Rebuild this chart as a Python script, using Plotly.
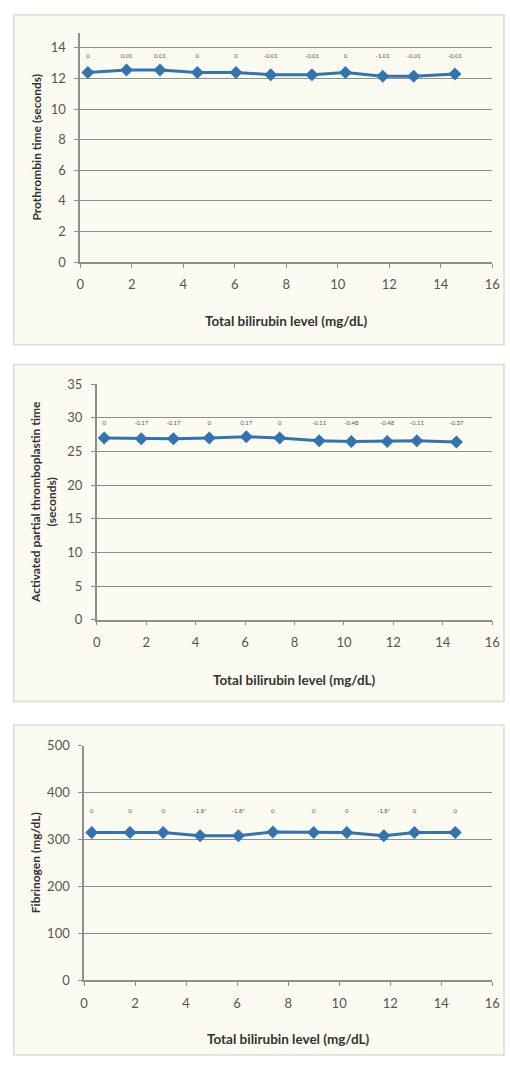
import plotly.graph_objects as go

# ---- data ----
bilirubin = [0.3, 1.8, 3.1, 4.55, 6.05, 7.4, 9.0, 10.3, 11.75, 12.95, 14.55]

pt_values = [12.4, 12.55, 12.55, 12.4, 12.4, 12.25, 12.25, 12.4, 12.15, 12.15, 12.3]
pt_labels = ["0", "0.01", "0.01", "0", "0", "-0.01", "-0.01", "0", "-1.01", "-0.01", "-0.01"]

aptt_values = [27.0, 26.9, 26.9, 27.0, 27.2, 27.0, 26.6, 26.5, 26.5, 26.6, 26.4]
aptt_labels = ["0", "-0.17", "-0.17", "0", "0.17", "0", "-0.11", "-0.48", "-0.48", "-0.11", "-0.37"]

fib_values = [315, 315, 315, 308, 308, 316, 315, 315, 308, 315, 315]
fib_labels = ["0", "0", "0", "-1.8*", "-1.8*", "0", "0", "0", "-1.8*", "0", "0"]

x_ticks = [0, 2, 4, 6, 8, 10, 12, 14, 16]
pt_ticks = [0, 2, 4, 6, 8, 10, 12, 14]
aptt_ticks = [0, 5, 10, 15, 20, 25, 30, 35]
fib_ticks = [0, 100, 200, 300, 400, 500]

x_title = ["Total bilirubin level (mg/dL)", "Total bilirubin level (mg/dL)", "Total bilirubin level (mg/dL)"]
y_titles = ["Prothrombin time (seconds)",
            "Activated partial thromboplastin time<br>(seconds)",
            "Fibrinogen (mg/dL)"]

# ---- layout helpers (pixel -> paper) ----
W, H = 510, 1065
def px(x):
    return x / W
def py(y):
    return 1 - y / H

FONT = "Lato, 'Open Sans', sans-serif"
LINE_COLOR = "#3274b0"
GRID = "#8f8f8f"
TICKC = "#555555"

fig = go.Figure()

panels = [
    dict(vals=pt_values, labels=pt_labels, label_y=13.45, ticks=pt_ticks, rng=[0, 15],
         xdom=[78, 500], ydom=[25, 258], frame=[10, 7, 512, 342], ytitle_x=33, xtitle_y=318),
    dict(vals=aptt_values, labels=aptt_labels, label_y=29.1, ticks=aptt_ticks, rng=[0, 35],
         xdom=[95, 500], ydom=[382, 621], frame=[10, 362, 512, 704], ytitle_x=41, xtitle_y=682),
    dict(vals=fib_values, labels=fib_labels, label_y=360, ticks=fib_ticks, rng=[0, 500],
         xdom=[82, 500], ydom=[749, 987], frame=[10, 728, 512, 1063], ytitle_x=33, xtitle_y=1047),
]

shapes = []
annotations = []
for i, p in enumerate(panels, start=1):
    xa = "x" if i == 1 else f"x{i}"
    ya = "y" if i == 1 else f"y{i}"
    fig.add_trace(go.Scatter(
        x=bilirubin, y=p["vals"], mode="lines+markers",
        line=dict(color=LINE_COLOR, width=3),
        marker=dict(symbol="diamond", size=10, color=LINE_COLOR),
        xaxis=xa, yaxis=ya, showlegend=False, cliponaxis=False))
    fig.add_trace(go.Scatter(
        x=bilirubin, y=[p["label_y"]] * len(bilirubin), mode="text",
        text=p["labels"], textfont=dict(size=6, color="#555555", family=FONT),
        xaxis=xa, yaxis=ya, showlegend=False, cliponaxis=False))

    xkey = "xaxis" if i == 1 else f"xaxis{i}"
    ykey = "yaxis" if i == 1 else f"yaxis{i}"
    fig.update_layout(**{
        xkey: dict(domain=[px(p["xdom"][0]), px(p["xdom"][1])], range=[0, 16],
                   tickvals=x_ticks, showgrid=False, zeroline=False,
                   showline=True, linecolor=GRID, linewidth=1.5,
                   ticks="outside", ticklen=4, tickcolor=GRID,
                   ticklabeloverflow="allow", ticklabelstandoff=6,
                   tickfont=dict(size=13, color=TICKC, family=FONT),
                   anchor=ya),
        ykey: dict(domain=[py(p["ydom"][1]), py(p["ydom"][0])], range=p["rng"],
                   tickvals=p["ticks"], showgrid=True, gridcolor=GRID, gridwidth=1.3,
                   zeroline=False, showline=True, linecolor=GRID, linewidth=1.5,
                   ticks="outside", ticklen=4, tickcolor=GRID,
                   ticklabelstandoff=6,
                   tickfont=dict(size=13, color=TICKC, family=FONT),
                   anchor=xa),
    })
    f = p["frame"]
    shapes.append(dict(type="rect", xref="paper", yref="paper",
                       x0=px(f[0]), x1=px(f[2]), y0=py(f[3]), y1=py(f[1]),
                       fillcolor="#fcfbf1", line=dict(color="#dcdcd4", width=1.5),
                       layer="below"))
    annotations.append(dict(xref="paper", yref="paper",
                            x=px((p["xdom"][0] + p["xdom"][1]) / 2), y=py(p["xtitle_y"]),
                            text="<b>" + x_title[i - 1] + "</b>", showarrow=False,
                            font=dict(size=13.5, color="#333333", family=FONT),
                            xanchor="center", yanchor="middle"))
    annotations.append(dict(xref="paper", yref="paper",
                            x=px(p["ytitle_x"]), y=py((p["ydom"][0] + p["ydom"][1]) / 2),
                            text="<b>" + y_titles[i - 1] + "</b>", showarrow=False,
                            textangle=-90,
                            font=dict(size=12, color="#333333", family=FONT),
                            xanchor="center", yanchor="middle"))

fig.update_layout(width=W, height=H, margin=dict(l=0, r=0, t=0, b=0),
                  paper_bgcolor="white", plot_bgcolor="rgba(0,0,0,0)",
                  shapes=shapes, annotations=annotations)

fig.write_html("out.html", config={"displayModeBar": False},
               post_script="document.body.style.margin='0';document.body.style.overflow='hidden';")
